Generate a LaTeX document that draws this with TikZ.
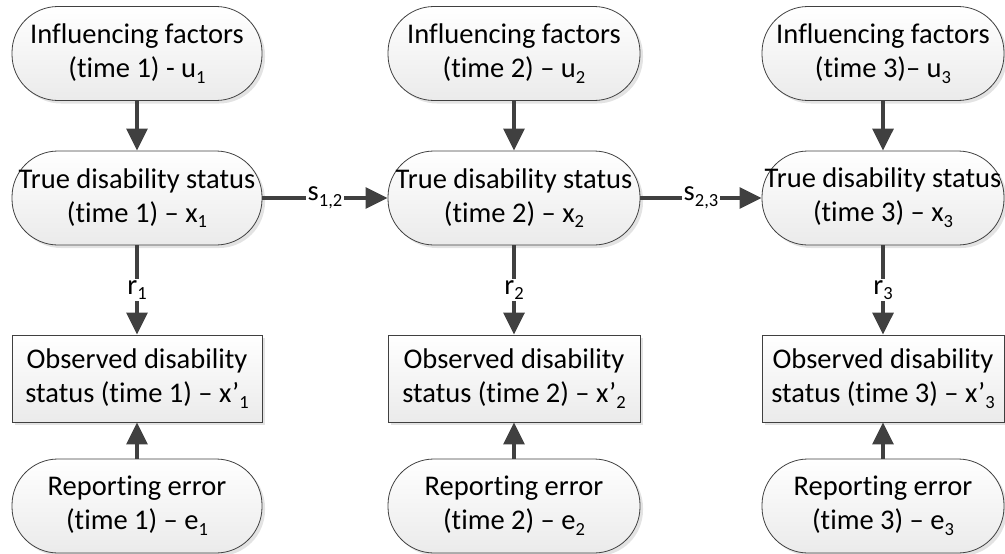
\documentclass[tikz,border=0pt]{standalone}
\usepackage{fontspec}
\setmainfont{Carlito}[RawFeature=-liga]
\usetikzlibrary{arrows.meta,shadows}
\newcommand{\sbs}[1]{\raisebox{-0.2em}{\fontsize{18.5}{18.5}\selectfont #1}}
\definecolor{edgec}{HTML}{404040}
\begin{document}
\begin{tikzpicture}[x=1pt,y=1pt,
 base/.style={draw=edgec, line width=0.8pt, top color=white, bottom color=gray!16,
   drop shadow={shadow xshift=3pt, shadow yshift=-3pt, opacity=0.22},
   align=center, inner sep=0pt, font=\fontsize{28.5}{34}\selectfont},
 pill/.style={base, rounded corners=46pt, minimum height=94pt},
 obox/.style={base, minimum height=87pt},
 conn/.style={draw=edgec, line width=3.2pt, -{Triangle[length=22pt,width=21pt]}},
 lbl/.style={fill=white, inner sep=1.5pt, font=\fontsize{28.5}{30}\selectfont}
]
\useasboundingbox (0,0) rectangle (1005,-554);
% column 1
\node[pill, minimum width=250pt] (u1) at (137,-53.5) {Influencing factors\\(time 1) - u\sbs{1}};
\node[pill, minimum width=250pt] (x1) at (137,-198) {True disability status\\(time 1) – x\sbs{1}};
\node[obox, minimum width=250pt] (o1) at (137,-378.5) {Observed disability\\status (time 1) – x’\sbs{1}};
\node[pill, minimum width=250pt] (e1) at (137,-506) {Reporting error\\(time 1) – e\sbs{1}};
% column 2
\node[pill, minimum width=252pt] (u2) at (514,-53.5) {Influencing factors\\(time 2) – u\sbs{2}};
\node[pill, minimum width=252pt] (x2) at (514,-198) {True disability status\\(time 2) – x\sbs{2}};
\node[obox, minimum width=252pt] (o2) at (514,-378.5) {Observed disability\\status (time 2) – x’\sbs{2}};
\node[pill, minimum width=252pt] (e2) at (514,-506) {Reporting error\\(time 2) – e\sbs{2}};
% column 3
\node[pill, minimum width=242pt] (u3) at (883,-53.5) {Influencing factors\\(time 3)– u\sbs{3}};
\node[pill, minimum width=242pt] (x3) at (883,-198) {True disability status\\(time 3) – x\sbs{3}};
\node[obox, minimum width=242pt] (o3) at (883,-378.5) {Observed disability\\status (time 3) – x’\sbs{3}};
\node[pill, minimum width=242pt] (e3) at (883,-506) {Reporting error\\(time 3) – e\sbs{3}};
% connectors
\foreach \i in {1,2,3}{
  \draw[conn] (u\i) -- (x\i);
  \draw[conn] (e\i) -- (o\i);
  \draw[conn] (x\i) -- node[lbl]{r\sbs{\i}} (o\i);
}
\draw[conn] (x1) -- node[lbl]{s\sbs{1,2}} (x2);
\draw[conn] (x2) -- node[lbl]{s\sbs{2,3}} (x3);
\end{tikzpicture}
\end{document}
